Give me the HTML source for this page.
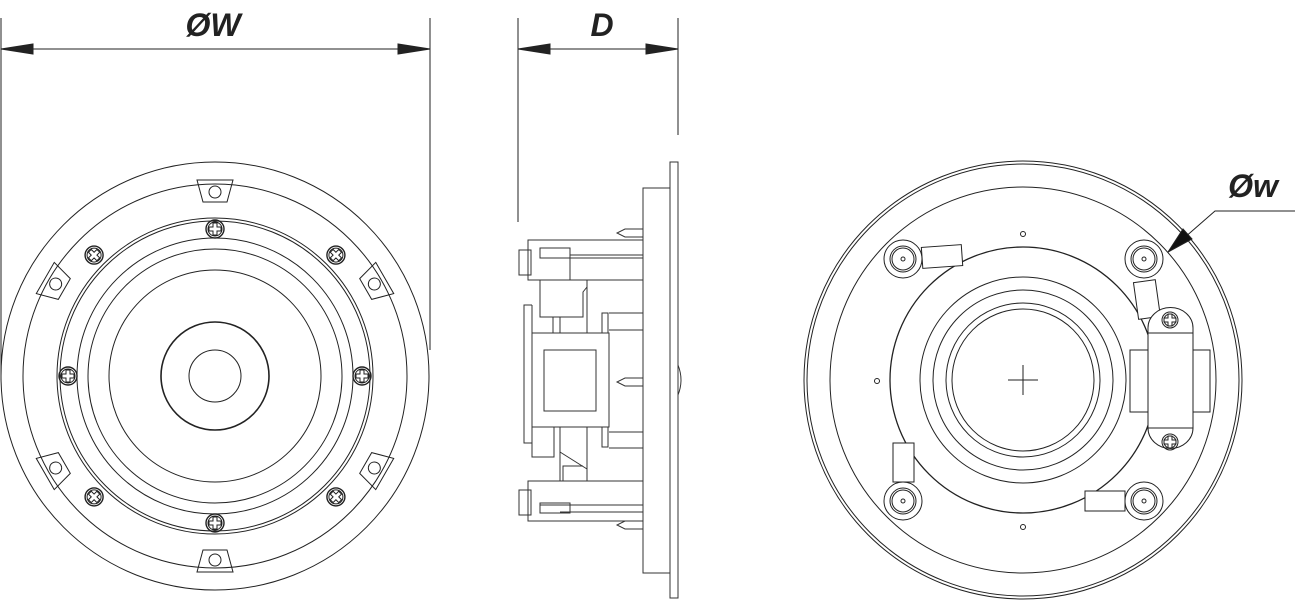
<!DOCTYPE html>
<html><head><style>html,body{margin:0;padding:0;background:#fff;width:1295px;height:600px;overflow:hidden}</style></head>
<body>
<svg width="1295" height="600" viewBox="0 0 1295 600" xmlns="http://www.w3.org/2000/svg" fill="none" stroke="#222" stroke-width="1">
<defs>
<g id="tab"><path d="M-18,-196 L18,-196 L12,-174 L-12,-174 Z"/><circle cx="0" cy="-184" r="6"/></g>
<g id="scr"><circle cx="0" cy="-147" r="9" stroke-width="1.4"/><circle cx="0" cy="-147" r="7"/><path d="M-2,-153 h4 v4 h4 v4 h-4 v4 h-4 v-4 h-4 v-4 h4 z"/></g>
<g id="scr2"><circle cx="0" cy="-171" r="9" stroke-width="1.4"/><circle cx="0" cy="-171" r="7"/><path d="M-2,-177 h4 v4 h4 v4 h-4 v4 h-4 v-4 h-4 v-4 h4 z"/></g>
<g id="post"><circle cx="-120" cy="-121" r="19"/><circle cx="-120" cy="-121" r="13"/><circle cx="-120" cy="-121" r="11"/><circle cx="-120" cy="-121" r="2"/></g>
</defs>
<!-- dimensions -->
<line x1="1" y1="18" x2="1" y2="380"/>
<line x1="430" y1="18" x2="430" y2="350"/>
<line x1="1" y1="49" x2="430" y2="49"/>
<polygon points="1,49 33,44 33,54" fill="#222"/>
<polygon points="430,49 398,44 398,54" fill="#222"/>
<text x="213" y="36" font-family="Liberation Sans, sans-serif" font-size="32" font-weight="bold" font-style="italic" fill="#222" stroke="none" text-anchor="middle">ØW</text>
<line x1="518" y1="18" x2="518" y2="222"/>
<line x1="678" y1="18" x2="678" y2="135"/>
<line x1="518" y1="49" x2="678" y2="49"/>
<polygon points="518,49 550,44 550,54" fill="#222"/>
<polygon points="678,49 646,44 646,54" fill="#222"/>
<text x="602" y="36" font-family="Liberation Sans, sans-serif" font-size="32" font-weight="bold" font-style="italic" fill="#222" stroke="none" text-anchor="middle">D</text>

<!-- front view -->
<g transform="translate(215,376)">
<circle r="214"/><circle r="192"/>
<circle r="158"/><circle r="155"/><circle r="138"/><circle r="127"/><circle r="106"/>
<circle r="54" stroke-width="1.6"/><circle r="26"/>
<use href="#tab"/><use href="#tab" transform="rotate(60)"/><use href="#tab" transform="rotate(120)"/><use href="#tab" transform="rotate(180)"/><use href="#tab" transform="rotate(240)"/><use href="#tab" transform="rotate(300)"/>
<use href="#scr"/><use href="#scr" transform="rotate(90)"/><use href="#scr" transform="rotate(180)"/><use href="#scr" transform="rotate(270)"/>
<use href="#scr2" transform="rotate(45)"/><use href="#scr2" transform="rotate(135)"/><use href="#scr2" transform="rotate(225)"/><use href="#scr2" transform="rotate(315)"/>
</g>

<!-- side view -->
<g stroke="#333">
<rect x="670" y="162" width="8" height="436"/>
<rect x="643" y="188" width="27" height="385"/>
<path d="M678,365 Q684,380 678,395"/>
<path d="M643,229 h-18 l-8,4 l8,4 h18"/>
<path d="M643,378 h-18 l-8,4 l8,4 h18"/>
<path d="M643,521 h-18 l-8,4 l8,4 h18"/>
<rect x="528" y="240" width="115" height="40"/>
<rect x="519" y="250" width="12" height="25"/>
<rect x="540" y="248" width="30" height="10"/>
<line x1="570" y1="255" x2="643" y2="255"/><line x1="570" y1="258" x2="643" y2="258"/><line x1="570" y1="256" x2="570" y2="280"/>
<path d="M540,280 v37 h43 v-25 l4,-5 v-7"/>
<line x1="587" y1="280" x2="587" y2="333"/>
<line x1="553" y1="317" x2="553" y2="333"/><line x1="560" y1="317" x2="560" y2="333"/>
<path d="M532,305 h-8 v138 h8"/><line x1="532" y1="305" x2="532" y2="333"/>
<rect x="532" y="333" width="77" height="94"/>
<rect x="544" y="350" width="52" height="61"/>
<rect x="602" y="313" width="6" height="20"/><line x1="609" y1="313" x2="643" y2="313"/><line x1="609" y1="330" x2="643" y2="330"/>
<rect x="602" y="427" width="6" height="20"/><line x1="609" y1="432" x2="643" y2="432"/><line x1="609" y1="448" x2="643" y2="448"/>
<path d="M532,427 v30 h22 v-30"/><line x1="560" y1="427" x2="560" y2="481"/><line x1="587" y1="427" x2="587" y2="481"/>
<path d="M560,452 L587,469"/><path d="M563,481 v-15 h20"/>
<rect x="528" y="481" width="115" height="40"/>
<rect x="519" y="490" width="12" height="25"/>
<rect x="540" y="503" width="30" height="10"/>
<line x1="540" y1="505" x2="643" y2="505"/><line x1="560" y1="512" x2="643" y2="512"/>
</g>

<!-- rear view -->
<g transform="translate(1023,380)">
<circle r="219"/><circle r="216"/><circle r="193"/>
<circle r="133" stroke-width="1.3"/><circle r="103"/><circle r="90"/><circle r="77"/><circle r="71"/>
<line x1="-15" y1="0" x2="15" y2="0"/><line x1="0" y1="-15" x2="0" y2="15"/>
<circle cx="0" cy="-146" r="2.5"/><circle cx="-146" cy="1" r="2.5"/><circle cx="0" cy="147" r="2.5"/>
<use href="#post"/><use href="#post" transform="translate(241,0)"/><use href="#post" transform="translate(0,242)"/><use href="#post" transform="translate(241,242)"/>
</g>
<g fill="#fff">
<rect x="922" y="246" width="40" height="21" transform="rotate(-4 942 256)"/>
<rect x="1136" y="281" width="22" height="37" transform="rotate(-8 1147 300)"/>
<rect x="893" y="443" width="21" height="39"/>
<rect x="1085" y="491" width="40" height="20"/>
<rect x="1130" y="350" width="80" height="62"/>
<path d="M1148,333 v-5 a22,20 0 0 1 45,0 v100 a22,20 0 0 1 -45,0 z"/>
<rect x="1148" y="333" width="45" height="95"/>
</g>
<g><circle cx="1170" cy="320" r="8"/><circle cx="1170" cy="320" r="6"/><path d="M1168,314 h4 v4 h4 v4 h-4 v4 h-4 v-4 h-4 v-4 h4 z"/>
<circle cx="1170" cy="442" r="8"/><circle cx="1170" cy="442" r="6"/><path d="M1168,436 h4 v4 h4 v4 h-4 v4 h-4 v-4 h-4 v-4 h4 z"/></g>
<polyline points="1295,211 1215,211 1168,252"/>
<polygon points="1168,252 1183,229 1192,239" fill="#111"/>
<text x="1253" y="197" font-family="Liberation Sans, sans-serif" font-size="32" font-weight="bold" font-style="italic" fill="#222" stroke="none" text-anchor="middle">Øw</text>
</svg>
</body></html>
